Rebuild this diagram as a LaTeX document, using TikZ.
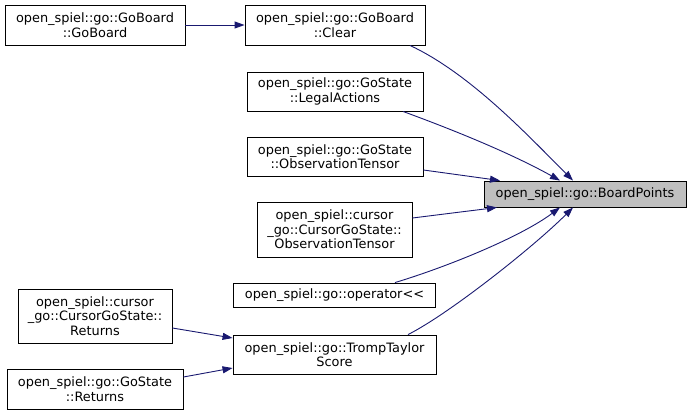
\documentclass[tikz,border=0pt]{standalone}
\usepackage{fontspec}
\setmainfont{DejaVu Sans}
\usetikzlibrary{arrows.meta}
\definecolor{edgeblue}{HTML}{191970}
\definecolor{hlgray}{HTML}{BFBFBF}
\tikzset{
  fbox/.style={draw=black, line width=0.9pt, fill=white, align=center, inner sep=0pt,
    font=\fontsize{12.9pt}{14.5pt}\selectfont},
  edge/.style={draw=edgeblue, line width=0.9pt, -{Triangle[length=10pt,width=7pt]}}
}
\begin{document}
\begin{tikzpicture}[x=1pt,y=-1pt]
\useasboundingbox (0,0) rectangle (692,416);
\node[fbox, minimum width=180pt, minimum height=40pt] (A) at (95,25) {open\_spiel::go::GoBoard\\::GoBoard};
\node[fbox, minimum width=180pt, minimum height=40pt] (B) at (335,25) {open\_spiel::go::GoBoard\\::Clear};
\node[fbox, minimum width=176pt, minimum height=39pt] (C) at (335,91.5) {open\_spiel::go::GoState\\::LegalActions};
\node[fbox, minimum width=176pt, minimum height=39pt] (D) at (335,156.5) {open\_spiel::go::GoState\\::ObservationTensor};
\node[fbox, minimum width=155pt, minimum height=55pt] (E) at (334.5,229.5) {open\_spiel::cursor\\\_go::CursorGoState::\\ObservationTensor};
\node[fbox, minimum width=202pt, minimum height=24pt] (F) at (334.5,295) {open\_spiel::go::operator<{}<};
\node[fbox, minimum width=203pt, minimum height=39pt] (G) at (334.5,354.5) {open\_spiel::go::TrompTaylor\\Score};
\node[fbox, minimum width=154pt, minimum height=54pt] (H) at (95,316) {open\_spiel::cursor\\\_go::CursorGoState::\\Returns};
\node[fbox, minimum width=176pt, minimum height=40pt] (I) at (95,389) {open\_spiel::go::GoState\\::Returns};
\node[fbox, fill=hlgray, minimum width=202pt, minimum height=26pt] (J) at (585,194) {open\_spiel::go::BoardPoints};

\draw[edge] (A.east) -- (B.west);
\draw[edge] ([xshift=75pt]B.south) .. controls +(60,28) and +(-45,-45) .. ([xshift=-12pt]J.north);
\draw[edge] ([xshift=68pt]C.south) .. controls +(60,22) and +(-45,-25) .. ([xshift=-25pt]J.north);
\draw[edge] ([yshift=-13.5pt]D.east) -- ([xshift=-85pt]J.north);
\draw[edge] ([yshift=11.5pt]E.east) -- ([xshift=-88pt]J.south);
\draw[edge] ([xshift=60.5pt]F.north) .. controls +(50,-15) and +(-40,30) .. ([xshift=-25pt]J.south);
\draw[edge] ([xshift=73.5pt]G.north) .. controls +(40,-20) and +(-40,40) .. ([xshift=-12pt]J.south);
\draw[edge] ([yshift=-12pt]H.east) -- ([yshift=16.5pt]G.west);
\draw[edge] ([yshift=12pt]I.east) -- ([yshift=-13.5pt]G.west);
\end{tikzpicture}
\end{document}
